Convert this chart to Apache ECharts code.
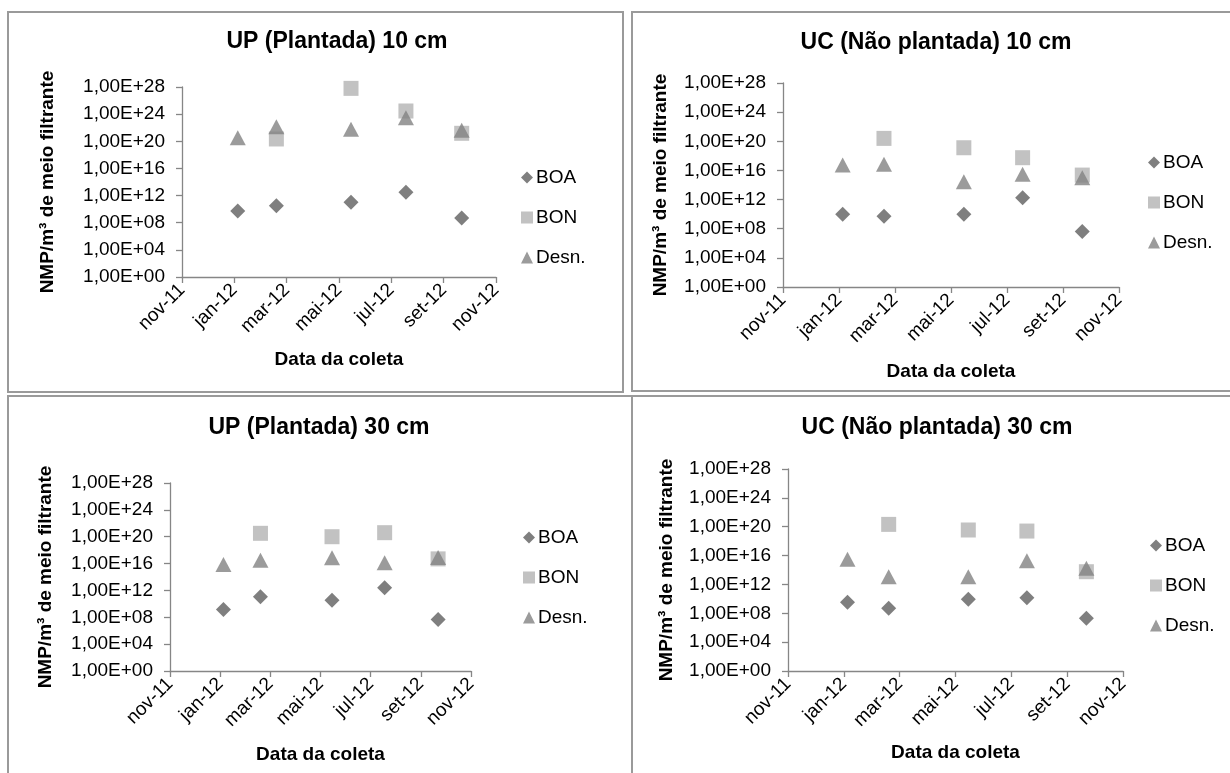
<!DOCTYPE html>
<html>
<head>
<meta charset="utf-8">
<title>NMP/m³ de meio filtrante</title>
<script src="https://cdn.jsdelivr.net/npm/echarts@6/dist/echarts.min.js"></script>
<style>
  html, body { margin: 0; padding: 0; background: #ffffff; }
  #chart { width: 1230px; height: 773px; }
</style>
</head>
<body>
<div id="chart"></div>
<script>
// Sampling dates (same five campaigns for every unit and depth)
const sampleDates = ['2012-01-05', '2012-02-19', '2012-05-16', '2012-07-19', '2012-09-22'];
const axisStartDate = '2011-11-01';
const seriesNames = ['BOA', 'BON', 'Desn.'];
const xTickLabels = ['nov-11', 'jan-12', 'mar-12', 'mai-12', 'jul-12', 'set-12', 'nov-12'];
const yTickLabels = ['1,00E+00', '1,00E+04', '1,00E+08', '1,00E+12', '1,00E+16', '1,00E+20', '1,00E+24', '1,00E+28'];
const panelTitles = ['UP (Plantada) 10 cm', 'UC (Não plantada) 10 cm', 'UP (Plantada) 30 cm', 'UC (Não plantada) 30 cm'];

// NMP/m³ per sampling date (null = not determined)
const upBOA10  = [5.4e9, 3.2e10, 1.0e11, 3.0e12, 4.9e8];
const upBON10  = [null, 2.2e20, 6.3e27, 2.9e24, 1.5e21];
const upDesn10 = [3.4e20, 1.4e22, 5.8e21, 3.0e23, 4.2e21];

const ucBOA10  = [9.5e9, 5.0e9, 9.5e9, 1.8e12, 4.0e7];
const ucBON10  = [null, 2.5e20, 1.3e19, 5.6e17, 2.3e15];
const ucDesn10 = [5.5e16, 6.9e16, 2.8e14, 3.0e15, 1.0e15];

const upBOA30  = [1.4e9, 1.1e11, 3.5e10, 2.5e12, 4.7e7];
const upBON30  = [null, 3.2e20, 1.0e20, 4.0e20, 5.0e16];
const upDesn30 = [7.4e15, 3.0e16, 7.4e16, 1.3e16, 7.9e16];

const ucBOA30  = [3.3e9, 4.9e8, 8.7e9, 1.4e10, 2.0e7];
const ucBON30  = [null, 2.1e20, 3.5e19, 2.5e19, 5.8e13];
const ucDesn30 = [3.0e15, 1.2e13, 1.2e13, 1.9e15, 1.7e14];

const panelSeries = [
  [upBOA10, upBON10, upDesn10],
  [ucBOA10, ucBON10, ucDesn10],
  [upBOA30, upBON30, upDesn30],
  [ucBOA30, ucBON30, ucDesn30]
];

// ---- presentation ----
const FONT = '"Liberation Sans", Arial, Helvetica, sans-serif';
const DAY_MS = 86400000;
const DAY_STEP = 61;          // two-month tick spacing, in days
const AXIS_COLOR = '#868686';
const markerStyles = [
  { symbol: 'diamond',  size: [15, 15], color: '#5f5f5f' },
  { symbol: 'rect',     size: [15, 15], color: '#b3b3b3' },
  { symbol: 'triangle', size: [16, 15], color: '#828282' }
];

const layout = [
  { grid: { left: 182, top: 87,  width: 314, height: 190 }, title: [337, 42],  legend: [521, 168],  yGap: 125, xGap: 73, box: [8, 12, 615, 380] },
  { grid: { left: 783, top: 83,  width: 336, height: 204 }, title: [936, 43],  legend: [1148, 153], yGap: 113, xGap: 75, box: [632, 12, 610, 379] },
  { grid: { left: 170, top: 483, width: 301, height: 188 }, title: [319, 428], legend: [523, 528],  yGap: 115, xGap: 74, box: [8, 396, 624, 390] },
  { grid: { left: 788, top: 469, width: 335, height: 202 }, title: [937, 428], legend: [1150, 536], yGap: 112, xGap: 72, box: [632, 396, 610, 390] }
];

function dayOffset(dateStr) {
  return Math.round((Date.parse(dateStr) - Date.parse(axisStartDate)) / DAY_MS);
}

const option = {
  animation: false,
  backgroundColor: '#ffffff',
  textStyle: { fontFamily: FONT },
  grid: [], xAxis: [], yAxis: [], series: [], legend: [], graphic: []
};

layout.forEach(function (L, p) {
  option.grid.push(Object.assign({ containLabel: false }, L.grid));

  option.xAxis.push({
    type: 'value', gridIndex: p,
    min: 0, max: DAY_STEP * 6, interval: DAY_STEP,
    name: 'Data da coleta', nameLocation: 'middle', nameGap: L.xGap,
    nameTextStyle: { fontFamily: FONT, fontSize: 19, fontWeight: 'bold', color: '#000' },
    axisLine: { show: true, lineStyle: { color: AXIS_COLOR, width: 1.3 } },
    axisTick: { show: true, length: 6, lineStyle: { color: AXIS_COLOR, width: 1.3 } },
    splitLine: { show: false },
    axisLabel: {
      rotate: 45, margin: 10, fontFamily: FONT, fontSize: 19, color: '#000',
      formatter: function (v) { return xTickLabels[Math.round(v / DAY_STEP)]; }
    }
  });

  option.yAxis.push({
    type: 'log', logBase: 1e4, gridIndex: p,
    min: 1, max: 1e28, splitNumber: 7,
    name: 'NMP/m³ de meio filtrante', nameLocation: 'middle', nameGap: L.yGap,
    nameTextStyle: { fontFamily: FONT, fontSize: 19, fontWeight: 'bold', color: '#000' },
    axisLine: { show: true, lineStyle: { color: AXIS_COLOR, width: 1.3 } },
    axisTick: { show: true, length: 6, lineStyle: { color: AXIS_COLOR, width: 1.3 } },
    splitLine: { show: false },
    axisLabel: {
      margin: 17, fontFamily: FONT, fontSize: 19, color: '#000',
      formatter: function (v) { return yTickLabels[Math.round(Math.log10(v) / 4)]; }
    }
  });

  panelSeries[p].forEach(function (values, s) {
    const m = markerStyles[s];
    const pts = [];
    values.forEach(function (v, i) {
      if (v != null) pts.push([dayOffset(sampleDates[i]), v]);
    });
    option.series.push({
      type: 'scatter', name: seriesNames[s],
      xAxisIndex: p, yAxisIndex: p,
      symbol: m.symbol, symbolSize: m.size,
      itemStyle: { color: m.color },
      emphasis: { disabled: true },
      silent: true,
      data: pts
    });
  });

  option.legend.push({
    orient: 'vertical', left: L.legend[0], top: L.legend[1], padding: 0,
    itemWidth: 12, itemHeight: 12, itemGap: 21,
    selectedMode: false,
    textStyle: { fontFamily: FONT, fontSize: 19, color: '#000', lineHeight: 19, padding: [0, 0, 0, -2] },
    data: seriesNames.map(function (n, s) { return { name: n, icon: markerStyles[s].symbol }; })
  });

  option.graphic.push({
    type: 'rect', silent: true, z: -10,
    shape: { x: L.box[0], y: L.box[1], width: L.box[2], height: L.box[3] },
    style: { fill: 'none', stroke: '#9a9a9a', lineWidth: 2 }
  });
  option.graphic.push({
    type: 'text', silent: true,
    x: L.title[0], y: L.title[1],
    style: {
      text: panelTitles[p], fill: '#000',
      font: 'bold 23px ' + FONT, align: 'center', verticalAlign: 'middle'
    }
  });
});

const chart = echarts.init(document.getElementById('chart'), null, { renderer: 'canvas' });
chart.setOption(option);
</script>
</body>
</html>
